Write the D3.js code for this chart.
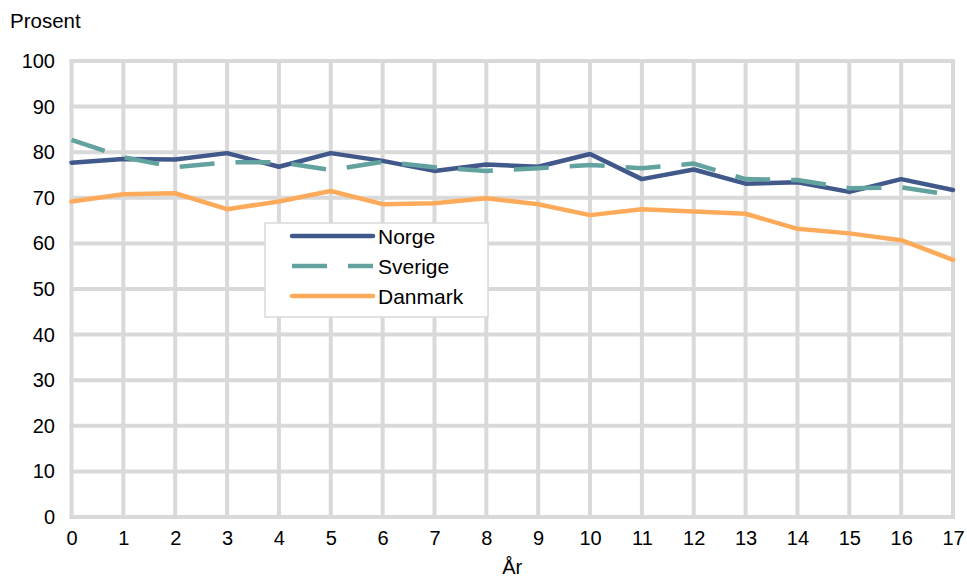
<!DOCTYPE html>
<html>
<head>
    <meta charset="utf-8">
    <script src="https://d3js.org/d3.v7.min.js"></script>
    <style>
        body { margin: 0; background: #fff; }
        text { font-family: "Liberation Sans", Arial, sans-serif; fill: #000; }
    </style>
</head>
<body>
    <svg id="chart" width="967" height="578"></svg>

    <script>
        // Data
        const years = d3.range(0, 18);
        const norge   = [77.7, 78.5, 78.4, 79.8, 76.8, 79.8, 78.1, 75.9, 77.3, 76.8, 79.6, 74.1, 76.2, 73.1, 73.4, 71.3, 74.1, 71.7];
        const sverige = [82.7, 78.9, 76.7, 77.8, 77.8, 76.1, 77.9, 76.7, 75.9, 76.5, 77.2, 76.5, 77.5, 74.1, 73.9, 72.1, 72.3, 70.6];
        const danmark = [69.2, 70.8, 71.0, 67.5, 69.2, 71.5, 68.6, 68.8, 69.9, 68.6, 66.2, 67.5, 67.0, 66.5, 63.2, 62.2, 60.7, 56.4];
        const yTicks = d3.range(0, 101, 10);

        const series = [
            { name: "Norge",   values: norge,   color: "#41588b", dash: null },
            { name: "Sverige", values: sverige, color: "#62a39f", dash: "35,21" },
            { name: "Danmark", values: danmark, color: "#fdaa5a", dash: null }
        ];

        const svg = d3.select("#chart");

        // plot area
        const x = d3.scaleLinear().domain([0, 17]).range([71.5, 953]);
        const y = d3.scaleLinear().domain([0, 100]).range([517, 61]);

        // grid
        const grid = svg.append("g");
        grid.selectAll("line.v")
            .data(years)
            .join("line")
            .attr("x1", d => x(d)).attr("x2", d => x(d))
            .attr("y1", y(100)).attr("y2", y(0))
            .attr("stroke", "#d9d9d9").attr("stroke-width", 4);
        grid.selectAll("line.h")
            .data(yTicks)
            .join("line")
            .attr("class", "h")
            .attr("x1", x(0)).attr("x2", x(17))
            .attr("y1", d => y(d)).attr("y2", d => y(d))
            .attr("stroke", "#d9d9d9").attr("stroke-width", 4)
            .attr("stroke-linecap", "square");

        // axes (labels only)
        const yAxis = svg.append("g")
            .attr("transform", "translate(55,0)")
            .call(d3.axisLeft(y).tickValues(yTicks).tickSize(0).tickPadding(0));
        yAxis.select(".domain").remove();
        yAxis.selectAll("text").style("font-size", "20px").attr("font-family", null);

        const xAxis = svg.append("g")
            .attr("transform", "translate(0,531)")
            .call(d3.axisBottom(x).tickValues(years).tickFormat(d3.format("d")).tickSize(0).tickPadding(0));
        xAxis.select(".domain").remove();
        xAxis.selectAll("text").style("font-size", "20px").attr("font-family", null);

        svg.append("text")
            .attr("x", 10).attr("y", 28)
            .style("font-size", "20.5px")
            .text("Prosent");

        svg.append("text")
            .attr("x", x(8.5)).attr("y", 574)
            .attr("text-anchor", "middle")
            .style("font-size", "20px")
            .text("År");

        // lines
        const line = d3.line()
            .x((d, i) => x(years[i]))
            .y(d => y(d));

        svg.append("g")
            .selectAll("path")
            .data(series)
            .join("path")
            .attr("d", d => line(d.values))
            .attr("fill", "none")
            .attr("stroke", d => d.color)
            .attr("stroke-width", 4.5)
            .attr("stroke-linejoin", "round")
            .attr("stroke-linecap", d => d.dash ? "butt" : "round")
            .attr("stroke-dasharray", d => d.dash);

        // legend
        const legend = svg.append("g");
        legend.append("rect")
            .attr("x", 265).attr("y", 223)
            .attr("width", 223).attr("height", 94)
            .attr("fill", "#fff")
            .attr("stroke", "#d9d9d9").attr("stroke-width", 1.5);

        const rows = legend.selectAll("g.row")
            .data(series)
            .join("g")
            .attr("transform", (d, i) => `translate(0,${236 + i * 30})`);
        rows.append("line")
            .attr("x1", 292).attr("x2", 373)
            .attr("stroke", d => d.color)
            .attr("stroke-width", 4.5)
            .attr("stroke-linecap", d => d.dash ? "butt" : "round")
            .attr("stroke-dasharray", d => d.dash);
        rows.append("text")
            .attr("x", 378).attr("y", 7.5)
            .style("font-size", "21px")
            .text(d => d.name);
    </script>
</body>
</html>
